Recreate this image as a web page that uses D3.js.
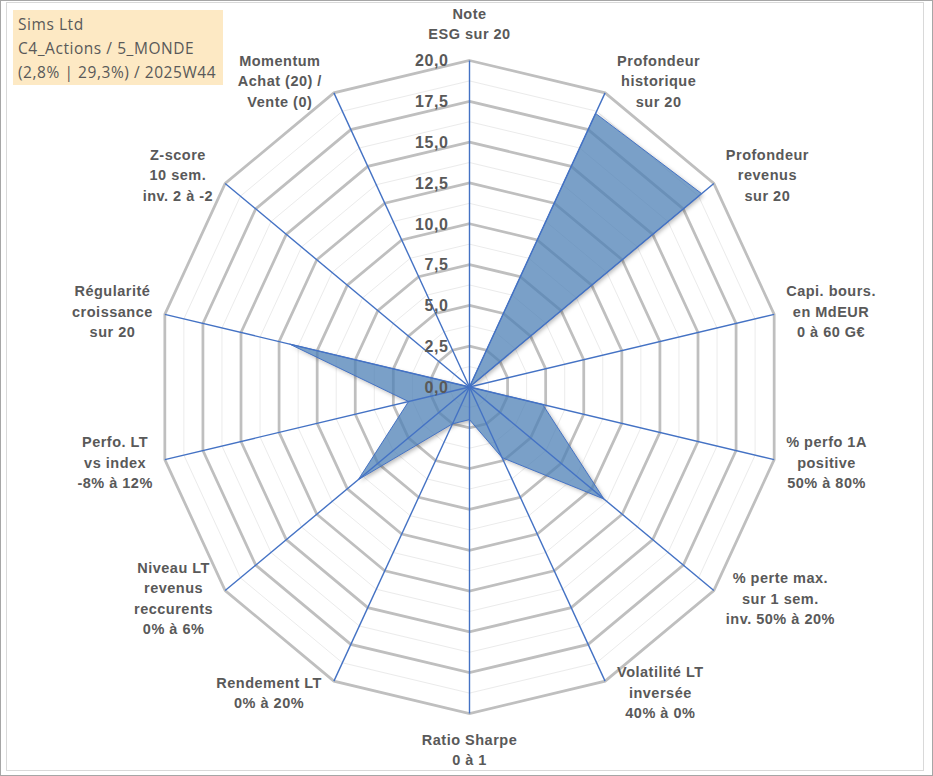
<!DOCTYPE html>
<html>
<head>
<meta charset="utf-8">
<script src="https://cdn.jsdelivr.net/npm/d3@7"></script>
<style>
  html, body { margin: 0; padding: 0; background: #ffffff; }
  svg { display: block; }
</style>
</head>
<body>
<div id="chart"></div>
<script>
(function () {
  "use strict";

  const axisLabels = [
    ["Note", "ESG sur 20"],
    ["Profondeur", "historique", "sur 20"],
    ["Profondeur", "revenus", "sur 20"],
    ["Capi. bours.", "en MdEUR", "0 à 60 G€"],
    ["% perfo 1A", "positive", "50% à 80%"],
    ["% perte max.", "sur 1 sem.", "inv. 50% à 20%"],
    ["Volatilité LT", "inversée", "40% à 0%"],
    ["Ratio Sharpe", "0 à 1"],
    ["Rendement LT", "0% à 20%"],
    ["Niveau LT", "revenus", "reccurents", "0% à 6%"],
    ["Perfo. LT", "vs index", "-8% à 12%"],
    ["Régularité", "croissance", "sur 20"],
    ["Z-score", "10 sem.", "inv. 2 à -2"],
    ["Momentum", "Achat (20) /", "Vente (0)"]
  ];

  const scores = [0, 18.6, 19.0, 0, 4.8, 11.0, 4.8, 2.0, 2.5, 9.1, 4.0, 11.8, 0, 0];

  const majorTicks = [0, 2.5, 5, 7.5, 10, 12.5, 15, 17.5, 20];
  const minorTicks = [1.25, 3.75, 6.25, 8.75, 11.25, 13.75, 16.25, 18.75];

  const titleLines = ["Sims Ltd", "C4_Actions / 5_MONDE", "(2,8% | 29,3%) / 2025W44"];

  const width = 933;
  const height = 776;
  const cx = 469.5;
  const cy = 387;
  const textColor = "#595959";

  const n = axisLabels.length;
  const angle = d3.scaleLinear().domain([0, n]).range([0, 2 * Math.PI]);
  const rx = d3.scaleLinear().domain([0, 20]).range([0, 312.5]);
  const ry = d3.scaleLinear().domain([0, 20]).range([0, 326.5]);

  function pointAt(value, i) {
    const a = angle(i);
    return [cx + rx(value) * Math.sin(a), cy - ry(value) * Math.cos(a)];
  }

  const fmt = (v) => d3.format(".1f")(v).replace(".", ",");

  const svg = d3.select("#chart")
    .append("svg")
    .attr("width", width)
    .attr("height", height)
    .attr("viewBox", `0 0 ${width} ${height}`);

  const ringLine = d3.line().curve(d3.curveLinearClosed);
  const idx = d3.range(n);
  const areaPath = ringLine(scores.map((v, i) => pointAt(v, i)));

  // shadow only outside the area, so it does not darken the translucent fill
  const defs = svg.append("defs");
  defs.append("filter")
    .attr("id", "blur")
    .attr("x", "-10%").attr("y", "-10%")
    .attr("width", "130%").attr("height", "130%")
    .append("feGaussianBlur")
    .attr("stdDeviation", 2);
  const mask = defs.append("mask")
    .attr("id", "outside")
    .attr("maskUnits", "userSpaceOnUse")
    .attr("x", 0).attr("y", 0)
    .attr("width", width).attr("height", height);
  mask.append("rect")
    .attr("width", width).attr("height", height)
    .attr("fill", "#fff");
  mask.append("path")
    .attr("d", areaPath)
    .attr("fill", "#000");

  // frames
  svg.append("rect")
    .attr("x", 0.5).attr("y", 0.5)
    .attr("width", width - 1).attr("height", height - 1)
    .attr("fill", "#fff").attr("stroke", "#a6a6a6");
  svg.append("rect")
    .attr("x", 6.5).attr("y", 2.5)
    .attr("width", 917).attr("height", 768)
    .attr("fill", "none").attr("stroke", "#d9d9d9");

  const grid = svg.append("g");
  grid.selectAll("path.minor")
    .data(minorTicks)
    .join("path")
    .attr("class", "minor")
    .attr("d", (v) => ringLine(idx.map((i) => pointAt(v, i))))
    .attr("fill", "none")
    .attr("stroke", "#ebebeb")
    .attr("stroke-width", 1);

  grid.selectAll("path.major")
    .data(majorTicks.filter((v) => v > 0))
    .join("path")
    .attr("class", "major")
    .attr("d", (v) => ringLine(idx.map((i) => pointAt(v, i))))
    .attr("fill", "none")
    .attr("stroke", "#bfbfbf")
    .attr("stroke-width", 2.75)
    .attr("stroke-linejoin", "miter");

  // data area with soft shadow
  svg.append("g")
    .attr("mask", "url(#outside)")
    .append("path")
    .attr("d", areaPath)
    .attr("transform", "translate(2,2)")
    .attr("fill", "#000")
    .attr("fill-opacity", 0.28)
    .attr("filter", "url(#blur)");

  svg.append("path")
    .attr("d", areaPath)
    .attr("fill", "#4e80b6")
    .attr("fill-opacity", 0.75)
    .attr("stroke", "#4472c4")
    .attr("stroke-width", 1);

  // spokes
  svg.append("g")
    .selectAll("line")
    .data(idx)
    .join("line")
    .attr("x1", cx).attr("y1", cy)
    .attr("x2", (i) => pointAt(20, i)[0])
    .attr("y2", (i) => pointAt(20, i)[1])
    .attr("stroke", "#4472c4")
    .attr("stroke-width", 1.4);

  // value ticks
  svg.append("g")
    .selectAll("text")
    .data(majorTicks)
    .join("text")
    .attr("x", cx - 21)
    .attr("y", (v) => cy - ry(v))
    .attr("dy", "0.36em")
    .attr("text-anchor", "end")
    .attr("font-family", "'Liberation Sans', Arial, sans-serif")
    .attr("font-weight", "bold")
    .attr("font-size", 16)
    .attr("letter-spacing", 0.6)
    .attr("fill", textColor)
    .text(fmt);

  // axis labels
  const lineH = 20.5;
  const gap = 12;
  const labels = svg.append("g")
    .attr("font-family", "'Liberation Sans', Arial, sans-serif")
    .attr("font-weight", "bold")
    .attr("font-size", 14.5)
    .attr("letter-spacing", 0.5)
    .attr("fill", textColor);

  labels.selectAll("g")
    .data(axisLabels)
    .join("g")
    .each(function (lines, i) {
      const g = d3.select(this);
      const a = angle(i);
      const s = Math.sin(a);
      const c = Math.cos(a);
      const end = pointAt(20, i);
      const texts = g.selectAll("text")
        .data(lines)
        .join("text")
        .attr("text-anchor", "middle")
        .attr("dy", "0.35em")
        .text((t) => t);
      const w = d3.max(texts.nodes(), (node) => node.getComputedTextLength());
      const h = lines.length * lineH;
      let x;
      let y;
      if (Math.abs(s) < 0.05) {
        x = end[0];
        y = c > 0 ? end[1] - 16 - h / 2 : end[1] + 16 + h / 2;
      } else {
        x = s > 0 ? end[0] + gap + w / 2 : end[0] - gap - w / 2;
        y = end[1] - c * 13;
      }
      texts
        .attr("x", x)
        .attr("y", (t, k) => y + (k - (lines.length - 1) / 2) * lineH);
    });

  // title box
  const title = svg.append("g");
  title.append("rect")
    .attr("x", 13).attr("y", 10)
    .attr("width", 210).attr("height", 75)
    .attr("fill", "#fde9c4");
  title.selectAll("text")
    .data(titleLines)
    .join("text")
    .attr("x", 18)
    .attr("y", (t, k) => 30 + k * 24)
    .attr("font-family", "'Open Sans', 'Liberation Sans', sans-serif")
    .attr("font-size", 15.5)
    .attr("letter-spacing", 0.55)
    .attr("fill", textColor)
    .text((t) => t);
})();
</script>
</body>
</html>
